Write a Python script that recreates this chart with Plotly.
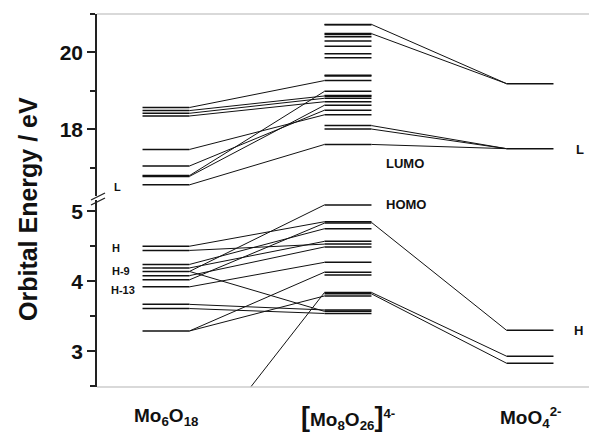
import plotly.graph_objects as go

# ---------------- data (eV) ----------------
columns = [1, 2, 3]
col_labels = ["<b>Mo<sub>6</sub>O<sub>18</sub></b>",
              "<b><span style='font-size:27px'>[</span>Mo<sub>8</sub>O<sub>26</sub><span style='font-size:27px'>]</span><sup>4-</sup></b>",
              "<b>MoO<sub>4</sub><sup>2-</sup></b>"]

mo6_upper = [18.57, 18.49, 18.42, 18.35, 17.48, 17.05, 16.80, 16.78, 16.56]
mo8_upper = [20.73, 20.72, 20.49, 20.47, 20.41, 20.30, 20.16, 19.97, 19.86,
             19.41, 19.39, 19.27, 18.99, 18.88, 18.86, 18.81, 18.72, 18.63,
             18.50, 18.38, 18.10, 18.01, 17.61]
moo4_upper = [19.19, 17.50]

mo6_lower = [4.50, 4.44, 4.24, 4.19, 4.14, 4.08, 4.02, 3.92, 3.67, 3.61, 3.29, 1.37]
mo8_lower = [5.09, 4.85, 4.83, 4.75, 4.57, 4.53, 4.49, 4.27, 4.13, 4.09,
             3.84, 3.82, 3.79, 3.59, 3.57, 3.54]
moo4_lower = [3.30, 2.93, 2.83]

# correlation lines (from, to)
links_upper_12 = [(18.57, 19.27), (18.49, 18.87), (18.42, 18.81), (18.35, 18.72),
                  (17.48, 18.38), (17.05, 18.50), (16.80, 18.99), (16.78, 18.63),
                  (16.56, 17.61)]
links_upper_23 = [(20.73, 19.19), (20.49, 19.19), (18.10, 17.50), (18.01, 17.50),
                  (17.61, 17.50)]
links_lower_12 = [(4.50, 4.85), (4.44, 4.53), (4.24, 4.75), (4.19, 4.57),
                  (4.14, 5.09), (4.14, 3.57), (4.08, 4.49), (4.02, 4.83),
                  (3.92, 4.27), (3.67, 3.59), (3.61, 3.54), (3.29, 3.79),
                  (3.29, 4.13), (1.37, 3.84)]
links_lower_23 = [(4.84, 3.30), (3.84, 2.93), (3.82, 2.83)]

upper_range = [16.27, 21.0]
lower_range = [2.49, 5.16]

HW = 0.129  # half width of a level bar (x units)


def levels_xy(center, values):
    xs, ys = [], []
    for v in values:
        xs += [center - HW, center + HW, None]
        ys += [v, v, None]
    return xs, ys


def links_xy(c1, c2, pairs):
    xs, ys = [], []
    for a, b in pairs:
        xs += [c1 + HW, c2 - HW, None]
        ys += [a, b, None]
    return xs, ys


fig = go.Figure()
LC = "#111111"

for ax, sets in (("y2", (mo6_upper, mo8_upper, moo4_upper)),
                 ("y", (mo6_lower, mo8_lower, moo4_lower))):
    for c, vals in zip(columns, sets):
        xs, ys = levels_xy(c, vals)
        fig.add_trace(go.Scatter(x=xs, y=ys, yaxis=ax, mode="lines",
                                 line=dict(color=LC, width=1.5),
                                 hoverinfo="skip", showlegend=False))

for ax, c1, c2, pairs in (("y2", 1, 2, links_upper_12), ("y2", 2, 3, links_upper_23),
                          ("y", 1, 2, links_lower_12), ("y", 2, 3, links_lower_23)):
    xs, ys = links_xy(c1, c2, pairs)
    fig.add_trace(go.Scatter(x=xs, y=ys, yaxis=ax, mode="lines",
                             line=dict(color=LC, width=1.0),
                             hoverinfo="skip", showlegend=False))

FONT = "Arial, Liberation Sans, sans-serif"
OFF = 8  # page body margin of the html page
W, H = 597 - OFF, 432 - OFF
ML, MR, MT, MB = 97 - OFF, 0, 14 - OFF, 432 - 387
PW, PH = W - ML - MR, H - MT - MB

def px_x(px):  # reference pixel -> paper x
    return (px - OFF - ML) / PW

def px_y(py):  # reference pixel -> paper y
    return (H - MB - (py - OFF)) / PH

x_range = [1 - 69 / 182, 3 + 67 / 182]

def x_of_px(px):
    return x_range[0] + (px - 97) / 182

tickfont = dict(size=21, family=FONT, weight="bold", color="#111")
fig.update_layout(
    width=W, height=H,
    margin=dict(l=ML, r=MR, t=MT, b=MB, autoexpand=False),
    plot_bgcolor="white", paper_bgcolor="white",
    font=dict(family=FONT, color="#111"),
    xaxis=dict(range=x_range, showgrid=False, zeroline=False, showticklabels=False,
               ticks="", showline=False, domain=[0, 1]),
    yaxis=dict(range=lower_range, domain=[0, px_y(200)], showgrid=False, zeroline=False,
               showline=True, linecolor="#222", linewidth=1.5,
               ticks="outside", ticklen=8, tickwidth=1.5, tickcolor="#222",
               tick0=3, dtick=1,
               minor=dict(ticks="outside", ticklen=5, tickwidth=1.5, dtick=0.5, tick0=2.5,
                          tickcolor="#222"),
               tickfont=tickfont),
    yaxis2=dict(range=upper_range, domain=[px_y(196), 1], showgrid=False, zeroline=False,
                showline=True, linecolor="#222", linewidth=1.5,
                ticks="outside", ticklen=8, tickwidth=1.5, tickcolor="#222",
                tick0=18, dtick=2,
                minor=dict(ticks="outside", ticklen=5, tickwidth=1.5, dtick=1, tick0=17,
                           tickcolor="#222"),
                tickfont=tickfont),
)

shapes = []
for yy in (0, 1):
    shapes.append(dict(type="line", xref="paper", yref="paper", x0=0, x1=1, y0=yy, y1=yy,
                       line=dict(color="#cccccc", width=1.5)))
for off in (0, 5):
    shapes.append(dict(type="line", xref="paper", yref="paper",
                       x0=px_x(91), x1=px_x(105),
                       y0=px_y(200 + off), y1=px_y(193 + off),
                       line=dict(color="#222", width=1.3)))
fig.update_layout(shapes=shapes)

ann = []
ann.append(dict(text="<b>Orbital Energy / eV</b>", xref="paper", yref="paper",
                x=px_x(28), y=px_y(209), textangle=-90, showarrow=False,
                font=dict(size=25, family=FONT, color="#111"),
                xanchor="center", yanchor="middle"))
for c, lab in zip(columns, col_labels):
    ann.append(dict(text=lab, xref="x", yref="paper", x=c, y=px_y(417),
                    showarrow=False, font=dict(size=19, family=FONT, color="#111"),
                    xanchor="center", yanchor="middle"))

small = dict(size=11, family=FONT, color="#111")
mid = dict(size=13, family=FONT, color="#111")
ann += [
    dict(text="<b>L</b>", xref="x", yref="y2", x=x_of_px(112), y=16.50, font=small),
    dict(text="<b>H</b>", xref="x", yref="y", x=x_of_px(110), y=4.47, font=small),
    dict(text="<b>H-9</b>", xref="x", yref="y", x=x_of_px(110), y=4.14, font=small),
    dict(text="<b>H-13</b>", xref="x", yref="y", x=x_of_px(109), y=3.87, font=small),
    dict(text="<b>LUMO</b>", xref="x", yref="y2", x=x_of_px(384), y=17.12, font=mid),
    dict(text="<b>HOMO</b>", xref="x", yref="y", x=x_of_px(384), y=5.10, font=mid),
    dict(text="<b>L</b>", xref="x", yref="y2", x=x_of_px(574), y=17.48, font=mid),
    dict(text="<b>H</b>", xref="x", yref="y", x=x_of_px(572), y=3.30, font=mid),
]
for a in ann[4:]:
    a.update(showarrow=False, xanchor="left", yanchor="middle")
fig.update_layout(annotations=ann)

fig.write_html("out.html")
